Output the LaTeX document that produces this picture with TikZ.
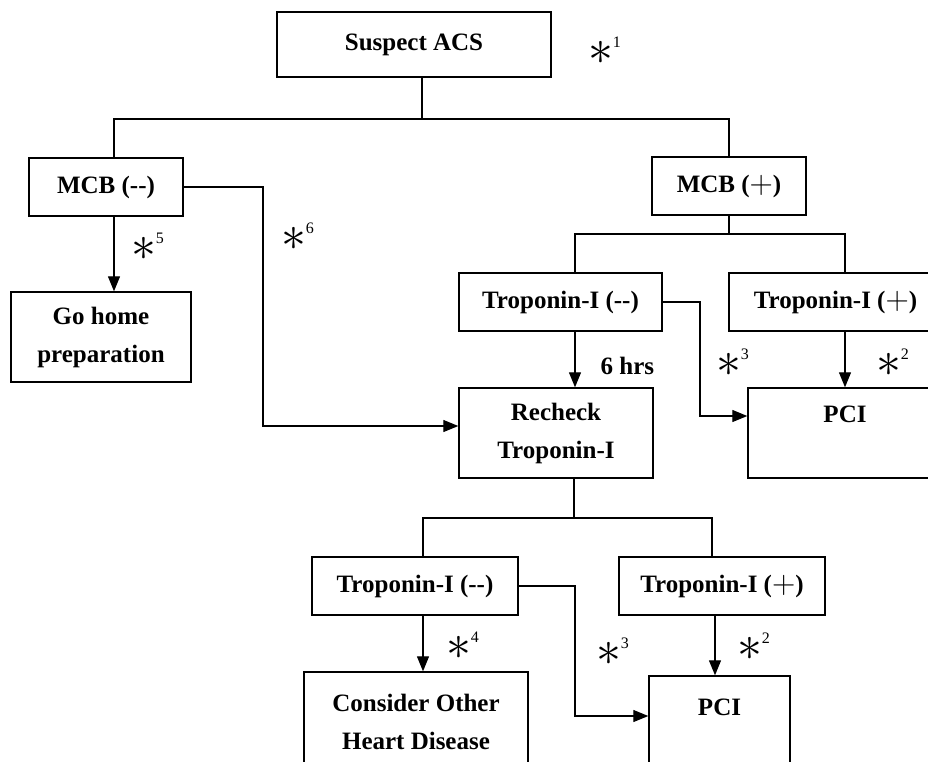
\documentclass[tikz,border=0pt]{standalone}
\usepackage{graphicx}
\usepackage{fontspec}
\setmainfont{Liberation Serif}
\usetikzlibrary{arrows.meta}

\newcommand{\starnote}[1]{\scalebox{2}{$\ast$}\raisebox{17.5pt}{\fontsize{16}{16}\selectfont #1}}
\newcommand{\plusmark}{\raisebox{-1pt}{\scalebox{1.3}{$+$}}}

\begin{document}
\begin{tikzpicture}[x=1pt,y=-1pt,line width=1.2pt,
  box/.style={draw,line width=1.4pt,inner sep=0pt,align=center,font=\bfseries\fontsize{25}{38}\selectfont},
  arr/.style={-{Triangle[length=15pt,width=12pt]}},
  note/.style={anchor=base west,inner sep=0pt,font=\fontsize{25}{25}\selectfont}]
  \useasboundingbox (0,0) rectangle (928,761);
  \clip (0,0) rectangle (928,761);

  % First level
  \node[box,minimum width=274pt,minimum height=65pt] (suspect) at (414,44.5) {Suspect ACS};
  \node[box,minimum width=154pt,minimum height=58pt] (mcbneg) at (106,187) {MCB (-{}-)};
  \node[box,minimum width=154pt,minimum height=58pt] (mcbpos) at (729,186) {MCB (\plusmark)};
  \node[box,minimum width=180pt,minimum height=90pt] (gohome) at (101,337) {Go home\\preparation};

  % Troponin, first check
  \node[box,minimum width=203pt,minimum height=58pt] (tropneg) at (560.5,302) {Troponin-I (-{}-)};
  \node[box,minimum width=213pt,minimum height=58pt] (troppos) at (835.5,302) {Troponin-I (\plusmark)};
  \node[box,minimum width=194pt,minimum height=90pt] (recheck) at (556,433) {Recheck\\Troponin-I};
  \node[box,minimum width=194pt,minimum height=90pt] (pcia) at (845,433) {PCI\\\mbox{}};

  % Troponin, second check
  \node[box,minimum width=206pt,minimum height=58pt] (tropnegb) at (415,586) {Troponin-I (-{}-)};
  \node[box,minimum width=206pt,minimum height=58pt] (tropposb) at (722,586) {Troponin-I (\plusmark)};
  \node[box,minimum width=224pt,minimum height=100pt] (consider) at (416,722) {Consider Other\\Heart Disease};
  \node[box,minimum width=141pt,minimum height=100pt] (pcib) at (719.5,726) {PCI\\\mbox{}};

  % Branch points
  \coordinate (j1) at (422,119);
  \coordinate (j2) at (729,234);
  \coordinate (j3) at (574,518);
  \coordinate (c6) at (263,426);
  \coordinate (c3a) at (700,416);
  \coordinate (c3b) at (575,716);

  % Tree lines
  \draw ([xshift=8pt]suspect.south) -- (j1);
  \draw ([xshift=8pt]mcbneg.north) |- (j1) -| (mcbpos.north);
  \draw (mcbpos.south) -- (j2);
  \draw ([xshift=14.5pt]tropneg.north) |- (j2) -| ([xshift=9.5pt]troppos.north);
  \draw ([xshift=18pt]recheck.south) -- (j3);
  \draw ([xshift=8pt]tropnegb.north) |- (j3) -| ([xshift=-10pt]tropposb.north);

  % Arrows
  \draw[arr] ([xshift=8pt]mcbneg.south) -- ([xshift=8pt]mcbneg.south |- gohome.north);
  \draw[arr] (mcbneg.east) -| (c6) -- (c6 -| recheck.west);
  \draw[arr] ([xshift=14.5pt]tropneg.south) -- ([xshift=14.5pt]tropneg.south |- recheck.north);
  \draw[arr] ([xshift=9.5pt]troppos.south) -- ([xshift=9.5pt]troppos.south |- pcia.north);
  \draw[arr] (tropneg.east) -| (c3a) -- (c3a -| pcia.west);
  \draw[arr] ([xshift=8pt]tropnegb.south) -- ([xshift=8pt]tropnegb.south |- consider.north);
  \draw[arr] (tropnegb.east) -| (c3b) -- (c3b -| pcib.west);
  \draw[arr] ([xshift=-7pt]tropposb.south) -- ([xshift=-7pt]tropposb.south |- pcib.north);

  % Labels
  \node[anchor=west,inner sep=0pt,font=\bfseries\fontsize{25}{25}\selectfont] (hrs) at (600,366) {6 hrs};
  \node[note] (s1) at (587.5,64.5) {\starnote{1}};
  \node[note] (s5) at (130.5,260.5) {\starnote{5}};
  \node[note] (s6) at (280.5,250.5) {\starnote{6}};
  \node[note] (s3a) at (715.5,376.5) {\starnote{3}};
  \node[note] (s2a) at (875.5,376.5) {\starnote{2}};
  \node[note] (s4) at (445.5,659.5) {\starnote{4}};
  \node[note] (s3b) at (595.5,665.5) {\starnote{3}};
  \node[note] (s2b) at (736.5,660.5) {\starnote{2}};
\end{tikzpicture}
\end{document}
